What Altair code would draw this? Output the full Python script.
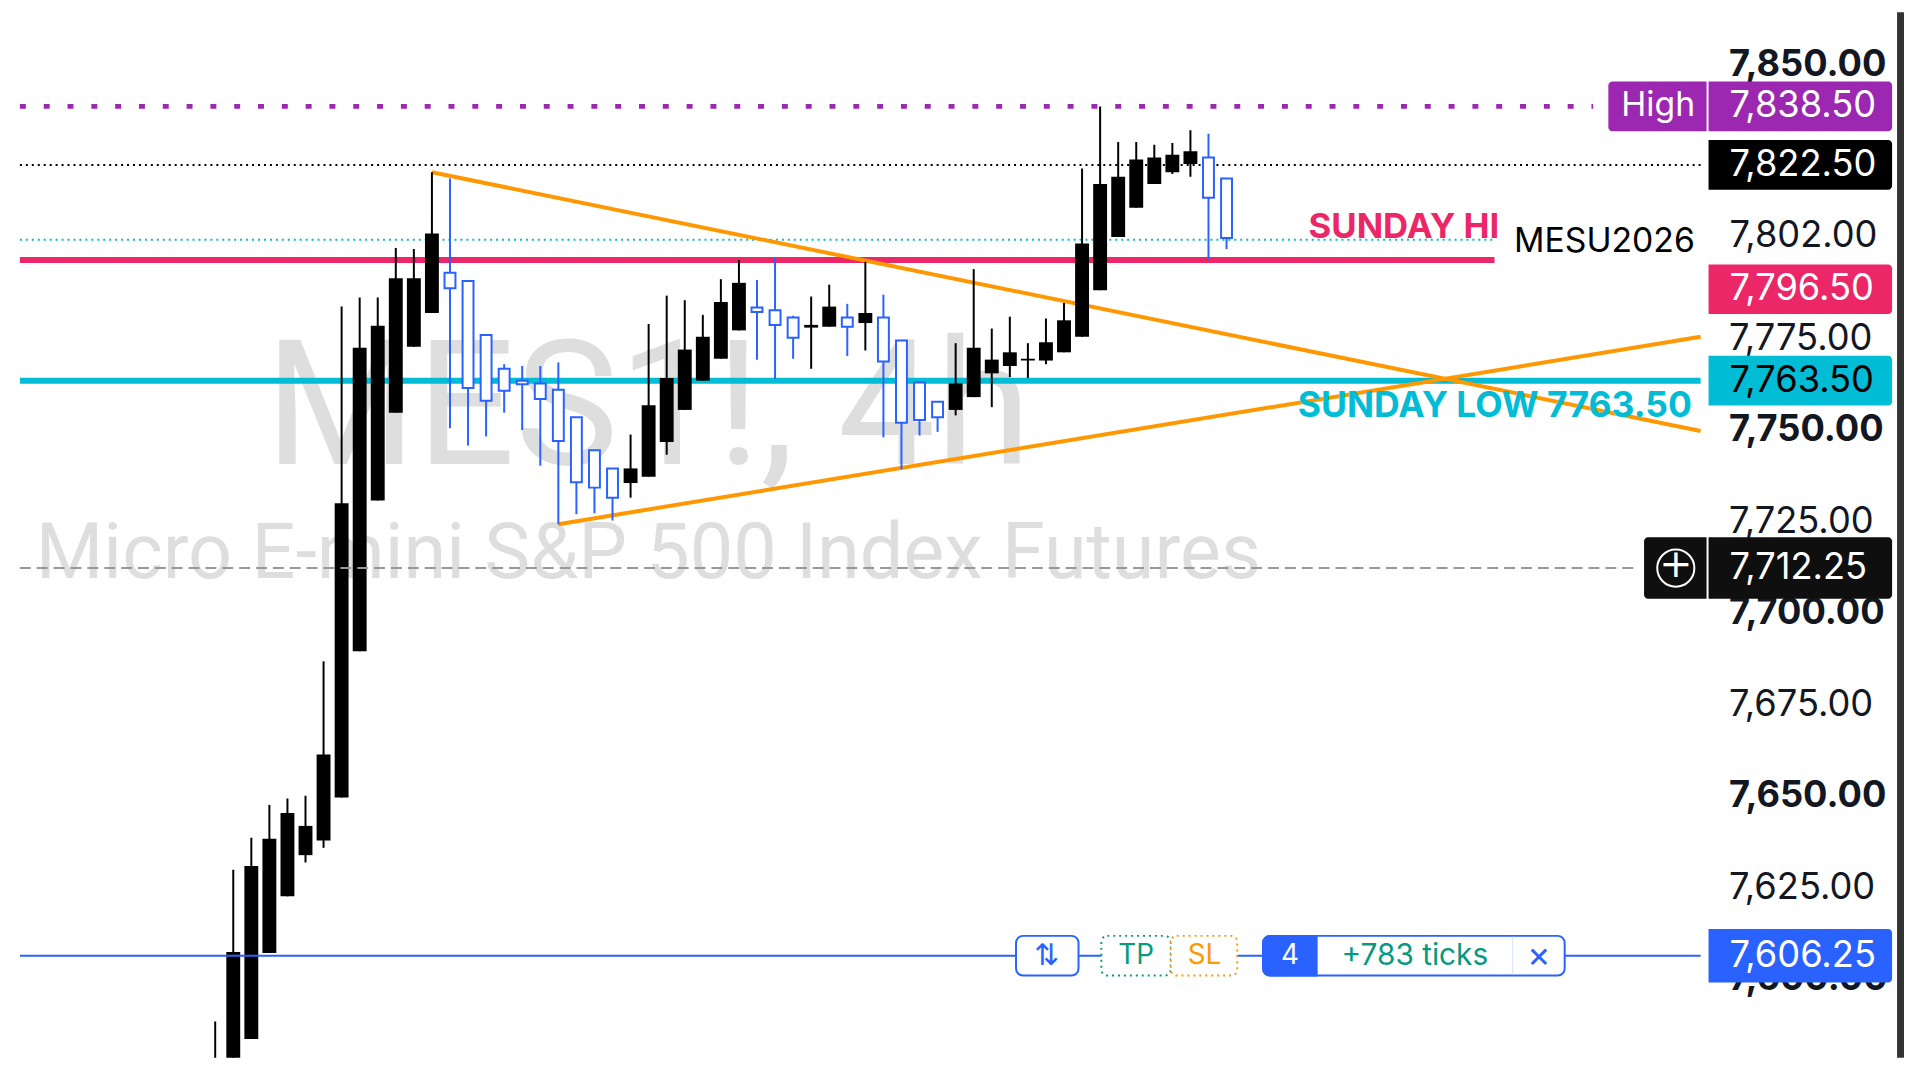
import altair as alt
import pandas as pd

# Candle values (price units)
high = [7588.25,7629.75,7638.5,7647.5,7649.25,7650,7686.75,7783.75,7786.25,7786.25,7799.75,7799.5,7820.5,7818.75,7790.75,7776,7768,7767.5,7767.5,7768.5,7753.5,7744.5,7739.5,7748.75,7779,7786.75,7785.5,7781.5,7791.25,7796.5,7791,7797,7781.25,7786.5,7789.75,7784.5,7796,7787,7774.5,7763,7757.75,7773.75,7794,7777.75,7781,7773.75,7780.5,7784.75,7821.5,7838.5,7828.75,7828.75,7828,7828.5,7832,7831,7818.75]
body_top = [7574,7607.25,7630.75,7638.25,7645.25,7641.75,7661.25,7730,7772.5,7778.5,7791.5,7791.5,7803.75,7793,7790.75,7776,7766.75,7763.5,7762.75,7761,7753.5,7744.5,7739.5,7739.5,7756.75,7764.25,7772,7775.5,7785,7790.25,7783.5,7782.75,7780.75,7778.75,7783.75,7780.75,7782,7780.75,7774.5,7763,7757.75,7762.75,7772.5,7769.25,7771.25,7769.5,7774,7780,7801,7817.25,7819.25,7824,7824.5,7825.25,7826.25,7824.5,7818.75]
body_bottom = [7560,7560,7583.5,7607,7622.5,7633.75,7637.75,7649.5,7689.5,7730.75,7754.75,7772.75,7782,7788.75,7761.5,7758,7760.75,7762.5,7758.5,7747,7735.75,7734.25,7731.5,7735.5,7737.25,7746.75,7755.5,7763.5,7769.5,7777.25,7782.25,7778.75,7775.25,7778,7778.25,7778.25,7779.25,7768.75,7752,7752.75,7753.5,7755.5,7759,7765.5,7767.5,7769,7769,7771.25,7775.5,7788.25,7802.75,7810.75,7817.25,7820.5,7822.75,7813.5,7802.5]
low = [7560,7560,7583.5,7607,7622.5,7631.75,7635.75,7649.5,7689.5,7730.75,7754.75,7772.75,7782,7750.5,7745.75,7748.25,7754.75,7750,7740.25,7724.25,7727,7727.25,7725.25,7731.5,7737.25,7743.25,7755.5,7763.5,7769.5,7777.25,7769.25,7764,7769.5,7766.75,7778.25,7770.25,7771.75,7748,7739.25,7748.5,7749.5,7754,7759,7756.25,7764.5,7764.25,7768,7771.25,7775.5,7788.25,7802.75,7810.75,7817.25,7820,7819.25,7796.5,7799.5]
hollow_from_to = [(13, 22), (30, 32), (35, 35), (37, 40), (55, 56)]

trend_down_i, trend_down_p = [12, 82.25], [7820.5, 7749.75]
trend_up_i, trend_up_p = [19, 82.25], [7724.25, 7775.5]

axis_values = [7850, 7825, 7775, 7750, 7725, 7700, 7675, 7650, 7625, 7600]

BLUE = "#2962FF"; BLACK = "#000000"; PINK = "#EC2768"; CYAN = "#00BCD4"
PURPLE = "#9C27B0"; ORANGE = "#FF9800"; GREEN = "#089981"; INK = "#131722"
FONT = "Inter"
NUM = 36.5

PX = 0.2713              # price per pixel
TOP_PRICE = 7864.27
PLOT_H = 1054
Y_SCALE = alt.Scale(domain=[TOP_PRICE - PLOT_H * PX, TOP_PRICE], nice=False, zero=False)
X_L, X_R = -10.814, 82.25
X_SCALE = alt.Scale(domain=[X_L, X_R], nice=False, zero=False)
X0 = alt.X("i:Q", scale=X_SCALE, axis=None)
Y0 = alt.Y("p:Q", scale=Y_SCALE, axis=None)

def px(v):
    return alt.value(v - 8)

layers = []

def one(**row):
    return alt.Chart(pd.DataFrame([row]))

def hline(price, x_end=X_R, x_start=X_L, **mk):
    d = pd.DataFrame({"i": [x_start, x_end], "p": [price, price]})
    layers.append(alt.Chart(d).mark_line(**mk).encode(x=X0, y=Y0))

def seg(xs, ys, **mk):
    d = pd.DataFrame({"i": xs, "p": ys})
    layers.append(alt.Chart(d).mark_line(**mk).encode(x=X0, y=Y0))

def box(x0, x1, price, h_px, **mk):
    half = h_px / 2 * PX
    layers.append(one(a=price + half, b=price - half).mark_rect(**mk).encode(
        x=px(x0), x2=px(x1),
        y=alt.Y("a:Q", scale=Y_SCALE, axis=None), y2="b:Q"))

def text(label, x, price, **mk):
    base = dict(font=FONT, fontSize=34, baseline="middle", align="left")
    base.update(mk)
    layers.append(one(p=price, t=label).mark_text(**base).encode(
        x=px(x), y=Y0, text="t:N"))

# axis layer (real price axis)
layers.append(one(p=7850, i=0).mark_point(opacity=0).encode(
    y=alt.Y("p:Q", scale=Y_SCALE, title=None, axis=alt.Axis(
        orient="right", values=axis_values, format=",.2f", domain=False, ticks=False,
        grid=False, labelFont=FONT, labelFontSize=NUM, labelColor=INK, labelAlign="left",
        labelPadding=23, labelOverlap=False, labelFlush=False, labelBound=False,
        labelFontWeight=alt.expr("datum.value % 50 == 0 ? 'bold' : 'normal'"))),
    x=X0))

# watermark
text("MES1!, 4h", 260, 7866.44 - 410 * PX, font="Roboto", fontSize=175, color="#DEDEDE")
text("Micro E-mini S&P 500 Index Futures", 29, 7866.44 - 555 * PX, font="Roboto", fontSize=78, color="#DEDEDE")

# horizontal levels below candles
hline(7822.5, color=BLACK, strokeWidth=2, strokeDash=[2, 4])
hline(7802, x_end=70.84, color=CYAN, strokeWidth=2, strokeDash=[2, 4])
hline(7796.5, x_end=70.84, color=PINK, strokeWidth=6)
hline(7763.5, color=CYAN, strokeWidth=6)
seg(trend_down_i, trend_down_p, color=ORANGE, strokeWidth=4)
seg(trend_up_i, trend_up_p, color=ORANGE, strokeWidth=4)
hline(7838.5, x_end=76.3, color=PURPLE, strokeWidth=5, strokeDash=[6, 18])

# candles
hollow = [False] * len(high)
for a, b in hollow_from_to:
    for k in range(a, b + 1):
        hollow[k] = True
candles = pd.DataFrame({"i": range(len(high)), "high": high, "low": low,
                        "top": body_top, "bottom": body_bottom, "hollow": hollow})
Yh = alt.Y("high:Q", scale=Y_SCALE, axis=None)
Yt = alt.Y("top:Q", scale=Y_SCALE, axis=None)
for flag, col in [(False, BLACK), (True, BLUE)]:
    d = candles[candles.hollow == flag]
    layers.append(alt.Chart(d).mark_rule(color=col, strokeWidth=2, clip=True).encode(
        x=X0, y=Yh, y2="low:Q"))
    if flag:
        bar = alt.Chart(d).mark_bar(size=11, fill="#FFFFFF", stroke=col, strokeWidth=2,
                                    orient="vertical", clip=True)
    else:
        bar = alt.Chart(d).mark_bar(size=14, fill=col, orient="vertical", clip=True)
    layers.append(bar.encode(x=X0, y=Yt, y2="bottom:Q"))

# levels above candles
hline(7712.25, x_end=78.7, color="#9598A1", strokeWidth=2, strokeDash=[11, 6])
hline(7606.25, color=BLUE, strokeWidth=2)

# right-side tags
box(1614, 1713, 7838.5, 50, fill=PURPLE, cornerRadiusTopLeft=4, cornerRadiusBottomLeft=4)
box(1715, 1900, 7838.5, 50, fill=PURPLE, cornerRadiusTopRight=4, cornerRadiusBottomRight=4)
box(1715, 1900, 7822.5, 50, fill=BLACK, cornerRadiusTopRight=4, cornerRadiusBottomRight=4)
box(1715, 1900, 7788.5, 50, fill=PINK, cornerRadiusTopRight=4, cornerRadiusBottomRight=4)
box(1715, 1900, 7763.5, 50, fill=CYAN, cornerRadiusTopRight=4, cornerRadiusBottomRight=4)
box(1650, 1713, 7712.25, 62, fill="#0F0F0F", cornerRadiusTopLeft=4, cornerRadiusBottomLeft=4)
box(1715, 1900, 7712.25, 62, fill="#0F0F0F", cornerRadiusTopRight=4, cornerRadiusBottomRight=4)
box(1715, 1900, 7606.25, 54, fill=BLUE, cornerRadiusTopRight=4, cornerRadiusBottomRight=4)
layers.append(one(a=TOP_PRICE, b=TOP_PRICE - PLOT_H * PX).mark_rect(fill="#333333").encode(
    x=px(1905), x2=px(1912), y=alt.Y("a:Q", scale=Y_SCALE, axis=None), y2="b:Q"))

text("High", 1627, 7838.5, color="#FFFFFF")
text("7,838.50", 1736, 7838.5, color="#FFFFFF", fontSize=NUM)
text("7,822.50", 1736, 7822.5, color="#FFFFFF", fontSize=NUM)
text("7,796.50", 1736, 7788.5, color="#FFFFFF", fontSize=NUM)
text("7,763.50", 1736, 7763.5, color=BLACK, fontSize=NUM)
text("7,712.25", 1736, 7712.25, color="#FFFFFF", fontSize=NUM)
text("7,606.25", 1736, 7606.25, color="#FFFFFF", fontSize=NUM)
text("7,802.00", 1736, 7803, color=INK, fontSize=NUM)
text("7,575.00", 1736, 7575.5, color=INK, fontSize=NUM, clip=True)
text("MESU2026", 1519, 7801.5, color=BLACK)
text("SUNDAY HI", 1504, 7805.5, color=PINK, fontWeight="bold", align="right", fontSize=35)
text("SUNDAY LOW 7763.50", 1301, 7756.5, color=CYAN, fontWeight="bold", fontSize=35.8)

# plus button on the crosshair tag
layers.append(one(p=7712.25).mark_point(shape="circle", size=1400, fill=None, stroke="#FFFFFF",
                                        strokeWidth=2, opacity=1).encode(x=px(1682), y=Y0))
text("+", 1682, 7713, color="#FFFFFF", align="center", fontSize=40, font="DejaVu Sans")

# order widget on the position line
box(1017, 1080, 7606.25, 40, fill="#FFFFFF", stroke=BLUE, strokeWidth=2, cornerRadius=7)
text("\u21c5", 1048, 7606.25, color=BLUE, align="center", fontSize=30, font="DejaVu Sans")
box(1103, 1173, 7606.25, 40, fill="#FFFFFF", stroke=GREEN, strokeWidth=2, strokeDash=[2, 4], cornerRadius=6)
box(1173, 1240, 7606.25, 40, fill="#FFFFFF", stroke=ORANGE, strokeWidth=2, strokeDash=[2, 4], cornerRadius=6)
text("TP", 1138, 7606.25, color=GREEN, align="center", fontSize=28)
text("SL", 1207, 7606.25, color=ORANGE, align="center", fontSize=28)
box(1266, 1570, 7606.25, 40, fill="#FFFFFF", stroke=BLUE, strokeWidth=2, cornerRadius=7)
box(1266, 1320, 7606.25, 40, fill=BLUE, stroke=BLUE, strokeWidth=2, cornerRadiusTopLeft=7, cornerRadiusBottomLeft=7)
box(1517, 1518, 7606.25, 38, fill="#D6E4FF")
text("4", 1293, 7606.25, color="#FFFFFF", align="center", fontSize=28)
text("+783 ticks", 1419, 7606.25, color=GREEN, align="center", fontSize=30)
text("\u00d7", 1544, 7606.25, color=BLUE, align="center", fontSize=36)

chart = alt.layer(*layers).resolve_axis(y="independent").properties(
    width=1704, height=PLOT_H, padding=0, background="#FFFFFF",
    autosize=alt.AutoSizeParams(type="pad"),
).configure_view(stroke=None)

chart.save("out.html", embed_options={"renderer": "svg", "actions": False})
